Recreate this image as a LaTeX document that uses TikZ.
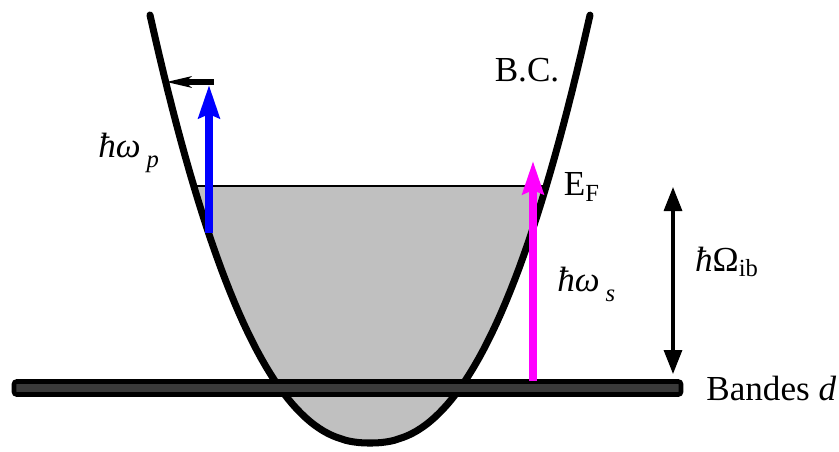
\documentclass[tikz,border=0pt]{standalone}
\usepackage{fontspec}
\setmainfont{Liberation Serif}
\usetikzlibrary{arrows.meta}
\definecolor{fermisea}{RGB}{192,192,192}
\definecolor{dband}{RGB}{58,58,58}
\definecolor{probe}{RGB}{0,0,255}
\definecolor{pump}{RGB}{255,0,255}
\newcommand{\lowsub}[1]{\raisebox{-0.3em}{\fontsize{14}{14}\selectfont\textit{#1}}}
\begin{document}
\begin{tikzpicture}[x=0.02cm, y=-0.02cm,
    band/.style={line width=4pt, line cap=round},
    jump/.style={line width=4pt, -{Stealth[length=0.66cm, width=0.42cm, inset=0.08cm]}},
    relax/.style={line width=3pt, -{Stealth[length=0.5cm, width=0.22cm, inset=0.12cm]}},
    gap/.style={line width=1.8pt, {Triangle[length=0.48cm, width=0.36cm]}-{Triangle[length=0.48cm, width=0.36cm]}},
    lbl/.style={font=\fontsize{20}{24}\selectfont, inner sep=0pt}
]
    \useasboundingbox (0,0) rectangle (839,451);

    % filled states below E_F
    \begin{scope}
        \clip (0,186) rectangle (839,451);
        \fill [fermisea] plot [domain=-220:220, samples=100] ({370+\x}, {443-428*(abs(\x)/220)^2.3}) -- cycle;
    \end{scope}
    \coordinate (efL) at (195,186);
    \coordinate (efR) at (545,186);
    \draw [line width=0.7pt] (efL) -- (efR);

    % conduction band
    \draw [band] plot [domain=-220:220, samples=100] ({370+\x}, {443-428*(abs(\x)/220)^2.3});

    % d bands
    \node [draw=black, line width=2.6pt, fill=dband, rounded corners=1.5pt, minimum width=667*0.02cm, minimum height=13*0.02cm, inner sep=0pt] (dbar) at (347.5,388) {};

    \coordinate (p0) at (209,233);
    \coordinate (p1) at (209,85);
    \coordinate (r0) at (214,82);
    \coordinate (r1) at (166,82);
    \coordinate (s0) at (533,381);
    \coordinate (s1) at (533,161);
    \coordinate (g0) at (673,187);
    \coordinate (g1) at (673,374);

    \draw [relax] (r0) -- (r1);
    \draw [jump, probe] (p0) -- (p1);
    \draw [jump, pump] (s0) -- (s1);
    \draw [gap] (g0) -- (g1);

    \node [lbl] (bc) at (527,70) {B.C.};
    \node [lbl, anchor=base west] (hwp) at (98,157) {\textit{ħω}\,\lowsub{p}};
    \node [lbl] (ef) at (582,187) {E\textsubscript{F}};
    \node [lbl, anchor=base west] (hws) at (557,291) {\textit{ħω}\,\lowsub{s}};
    \node [lbl] (hwib) at (727,262) {\textit{ħ}Ω\textsubscript{ib}};
    \node [lbl, anchor=west] (bandd) at (706,388) {Bandes \textit{d}};
\end{tikzpicture}
\end{document}
